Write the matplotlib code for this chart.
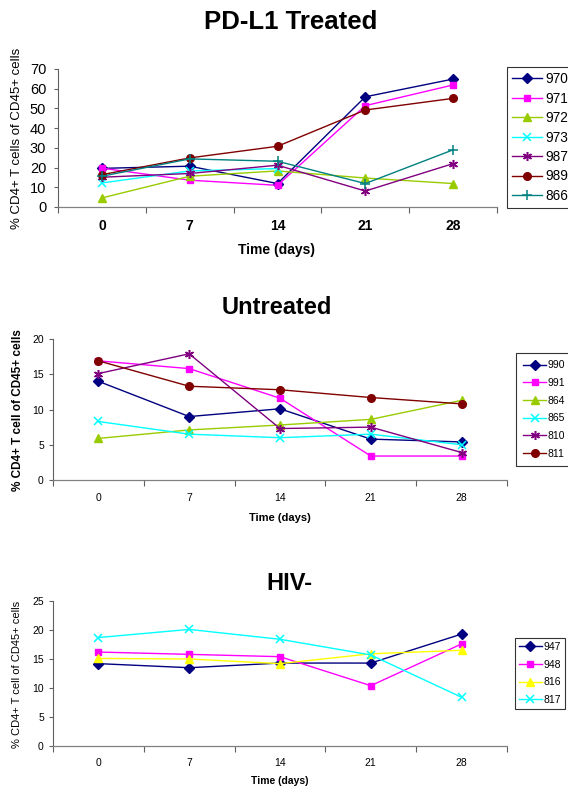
import numpy as np
import matplotlib
matplotlib.use("Agg")
import matplotlib.pyplot as plt

plt.rcParams['font.family'] = ['Liberation Sans', 'DejaVu Sans']

days = ['0', '7', '14', '21', '28']
nan = np.nan

# PD-L1 Treated
pd_labels = ['970', '971', '972', '973', '987', '989', '866']
pd_970 = [19.6, 20.7, 11.9, 55.9, 64.9]
pd_971 = [19.7, 13.6, 11.0, 51.4, 61.9]
pd_972 = [4.6, 15.6, 18.3, 14.7, 11.9]
pd_973 = [12.2, 18.3, 19.5, nan, nan]
pd_987 = [15.1, 17.0, 21.2, 8.1, 22.0]
pd_989 = [16.4, 24.9, 30.8, 49.2, 55.1]
pd_866 = [15.6, 24.4, 23.2, 11.9, 29.0]

# Untreated
un_labels = ['990', '991', '864', '865', '810', '811']
un_990 = [14.0, 9.0, 10.1, 5.8, 5.4]
un_991 = [16.9, 15.8, 11.6, 3.4, 3.4]
un_864 = [5.9, 7.1, 7.8, 8.6, 11.3]
un_865 = [8.3, 6.5, 6.0, 6.5, 5.0]
un_810 = [15.1, 17.9, 7.3, 7.5, 3.9]
un_811 = [16.9, 13.3, 12.8, 11.7, 10.8]

# HIV-
hiv_labels = ['947', '948', '816', '817']
hiv_947 = [14.2, 13.5, 14.3, 14.3, 19.3]
hiv_948 = [16.2, 15.8, 15.4, 10.4, 17.6]
hiv_816 = [15.1, 15.0, 14.2, 15.9, 16.5]
hiv_817 = [18.7, 20.1, 18.4, 15.7, 8.4]

NAVY, MAG, YG, CYAN, PURP, DRED, TEAL, YEL = ('#000080', '#FF00FF', '#99CC00', '#00FFFF',
                                             '#800080', '#800000', '#008080', '#FFFF00')
ASTER = (6, 2, 0)
styles = {
    'diamond': dict(marker='D', ms=4.6),
    'square': dict(marker='s', ms=5.0),
    'tri': dict(marker='^', ms=5.5),
    'x': dict(marker='x', ms=5.5, mew=1.1),
    'ast': dict(marker=ASTER, ms=6.5, mew=1.1),
    'circle': dict(marker='o', ms=5.5),
    'plus': dict(marker='+', ms=7.5, mew=1.1),
}

W, H = 568, 791
fig = plt.figure(figsize=(W / 100, H / 100), dpi=100)


def fx(px):
    return px / W


def fy(py):
    return 1 - py / H


def make_axes(l, r, t, b):
    return fig.add_axes([fx(l), fy(b), fx(r) - fx(l), fy(t) - fy(b)])


def style_axes(ax, ymax, ystep, xfs, xbold, yfs, xpad, ypad, dotted):
    x = np.arange(len(days))
    ax.set_xlim(-0.5, len(days) - 0.5)
    ax.set_ylim(0, ymax)
    ax.set_yticks(np.arange(0, ymax + 0.1, ystep))
    ax.set_xticks(x)
    ax.set_xticklabels(days, fontsize=xfs, fontweight='bold' if xbold else 'normal')
    ax.set_xticks(np.arange(-0.5, len(days)), minor=True)
    ax.tick_params(axis='x', which='major', length=0, pad=xpad)
    ax.tick_params(axis='x', which='minor', length=4, width=0.8, color='#606060', direction='out')
    ax.tick_params(axis='y', length=3, width=0.8, color='#606060', direction='out', pad=ypad,
                   labelsize=yfs)
    for s in ('top', 'right'):
        ax.spines[s].set_visible(False)
    ax.spines['left'].set_color('#606060')
    ax.spines['left'].set_linewidth(0.8)
    ax.spines['bottom'].set_color('#808080')
    ax.spines['bottom'].set_linewidth(0.9)
    if dotted:
        ax.spines['bottom'].set_linestyle((0, (1, 1)))
    ax.set_facecolor('white')


def draw(ax, series, labels, colors, marks, lw=1.0):
    x = np.arange(len(days))
    handles = []
    for vals, lab, c, m in zip(series, labels, colors, marks):
        st = styles[m]
        h, = ax.plot(x, vals, color=c, lw=lw, mfc=c, mec=c, label=lab, clip_on=False, **st)
        handles.append(h)
    return handles


# ---- Panel 1 ----
ax1 = make_axes(58, 497, 69, 207)
h1 = draw(ax1, [pd_970, pd_971, pd_972, pd_973, pd_987, pd_989, pd_866], pd_labels,
          [NAVY, MAG, YG, CYAN, PURP, DRED, TEAL],
          ['diamond', 'square', 'tri', 'x', 'ast', 'circle', 'plus'])
style_axes(ax1, 70, 10, 10, True, 10.5, 8.6, 5.5, False)
fig.text(fx(291), fy(22), 'PD-L1 Treated', fontsize=18.5, fontweight='bold', ha='center', va='center')
fig.text(fx(17), fy(138), '% CD4+ T cells of CD45+ cells', fontsize=9.5, rotation=90,
         ha='center', va='center')
fig.text(fx(277), fy(250), 'Time (days)', fontsize=10, fontweight='bold', ha='center', va='center')
leg1 = fig.legend(handles=h1, labels=pd_labels, loc='upper left',
                  bbox_to_anchor=(fx(507), fy(67)), bbox_transform=fig.transFigure,
                  fontsize=9.8, frameon=True, fancybox=False, edgecolor='black',
                  borderaxespad=0, borderpad=0.38, labelspacing=0.40, handlelength=2.2,
                  handletextpad=0.25)
leg1.get_frame().set_linewidth(0.8)

# ---- Panel 2 ----
ax2 = make_axes(53, 507, 339, 480)
h2 = draw(ax2, [un_990, un_991, un_864, un_865, un_810, un_811], un_labels,
          [NAVY, MAG, YG, CYAN, PURP, DRED],
          ['diamond', 'square', 'tri', 'x', 'ast', 'circle'])
style_axes(ax2, 20, 5, 7.5, False, 7.5, 9.4, 3.6, True)
fig.text(fx(277), fy(308), 'Untreated', fontsize=17, fontweight='bold', ha='center', va='center')
fig.text(fx(18), fy(410), '% CD4+ T cell of CD45+ cells', fontsize=8.5, fontweight='bold',
         rotation=90, ha='center', va='center')
fig.text(fx(280), fy(518), 'Time (days)', fontsize=8, fontweight='bold', ha='center', va='center')
leg2 = fig.legend(handles=h2, labels=un_labels, loc='upper left',
                  bbox_to_anchor=(fx(516), fy(353)), bbox_transform=fig.transFigure,
                  fontsize=7.5, frameon=True, fancybox=False, edgecolor='black',
                  borderaxespad=0, borderpad=0.7, labelspacing=0.74, handlelength=2.2,
                  handletextpad=0.15)
leg2.get_frame().set_linewidth(0.8)

# ---- Panel 3 ----
ax3 = make_axes(53, 507, 601, 746)
h3 = draw(ax3, [hiv_947, hiv_948, hiv_816, hiv_817], hiv_labels,
          [NAVY, MAG, YEL, CYAN], ['diamond', 'square', 'tri', 'x'])
style_axes(ax3, 25, 5, 7.5, False, 7.5, 8.6, 3.6, True)
fig.text(fx(289), fy(583), 'HIV-', fontsize=17, fontweight='bold', ha='center', va='center')
fig.text(fx(17), fy(674), '% CD4+ T cell of CD45+ cells', fontsize=8, rotation=90,
         ha='center', va='center')
fig.text(fx(280), fy(781), 'Time (days)', fontsize=7.5, fontweight='bold', ha='center', va='center')
leg3 = fig.legend(handles=h3, labels=hiv_labels, loc='upper left',
                  bbox_to_anchor=(fx(515), fy(638)), bbox_transform=fig.transFigure,
                  fontsize=7.5, frameon=True, fancybox=False, edgecolor='black',
                  borderaxespad=0, borderpad=0.38, labelspacing=0.74, handlelength=2.2,
                  handletextpad=0.15)
leg3.get_frame().set_linewidth(0.8)

fig.savefig('out.png', dpi=100, facecolor='white')
